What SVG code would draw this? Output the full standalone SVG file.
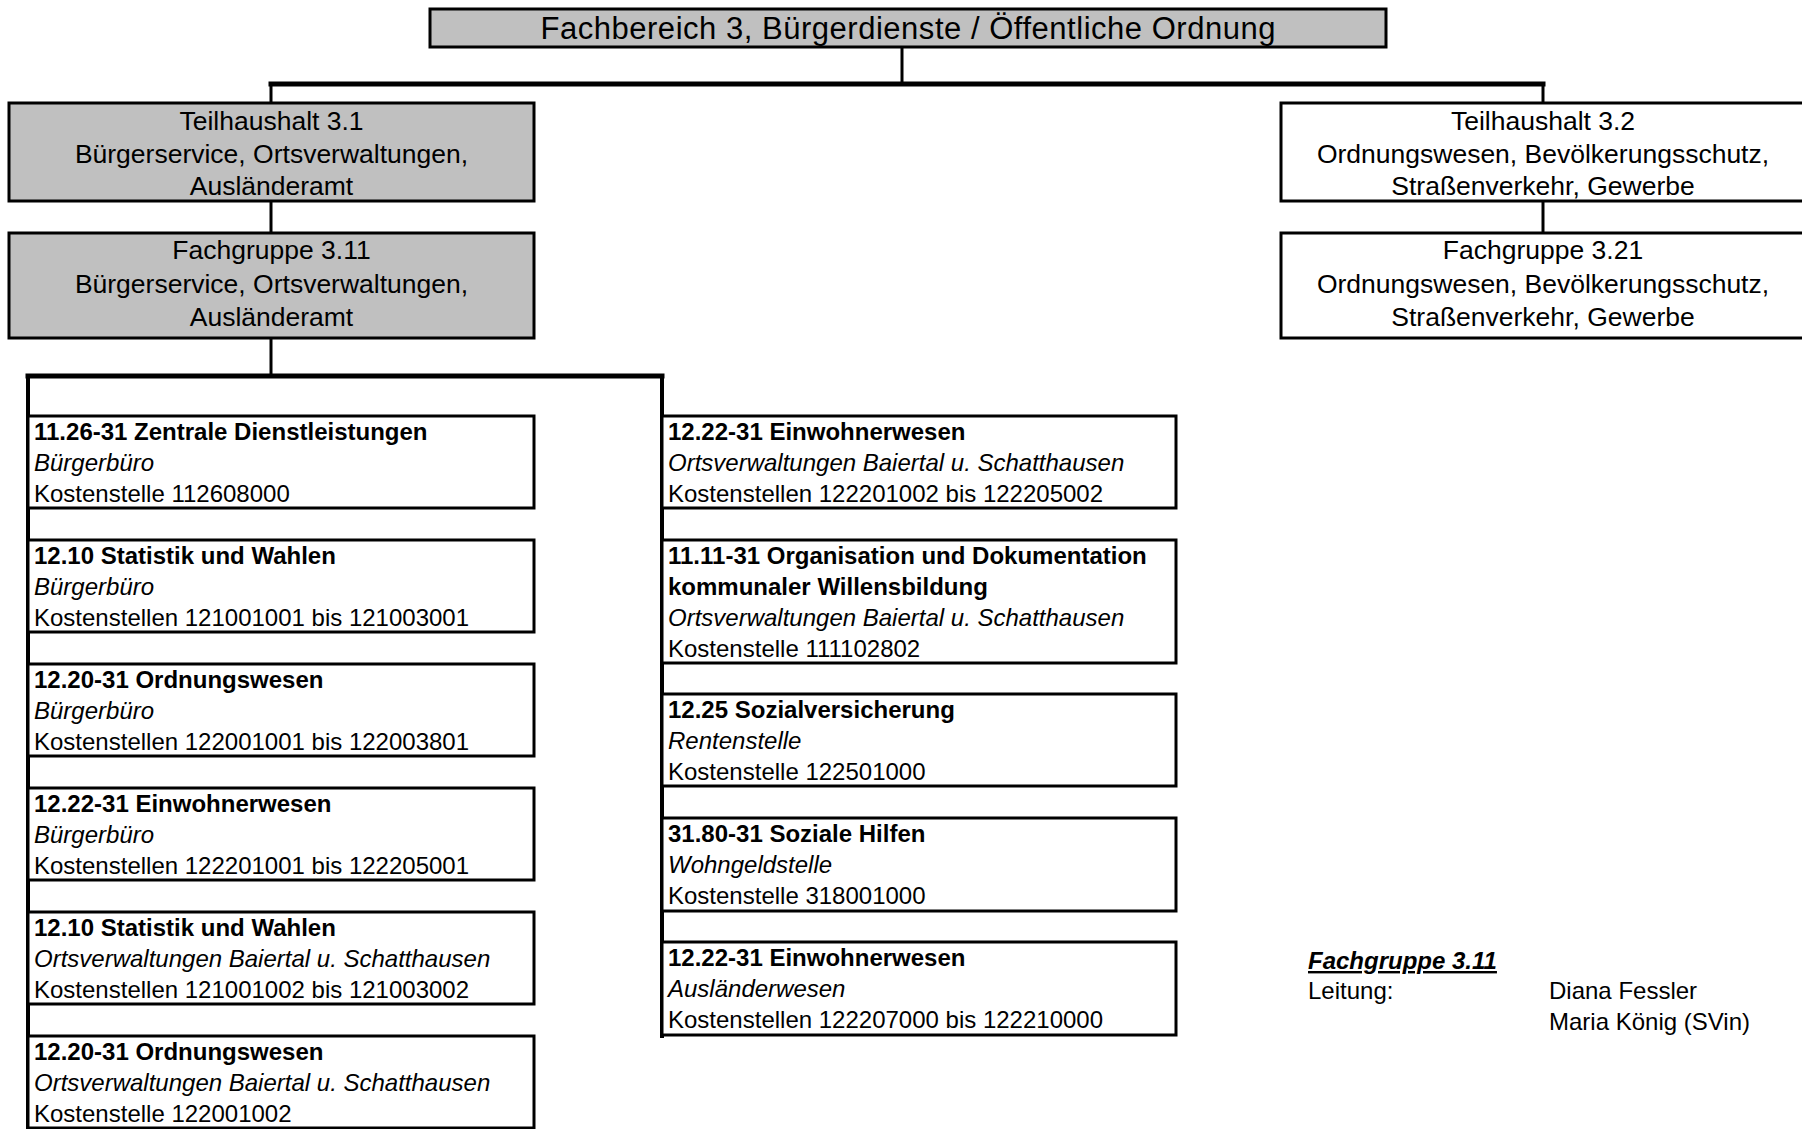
<svg xmlns="http://www.w3.org/2000/svg" width="1802" height="1129" viewBox="0 0 1802 1129">
<style>
  text { font-family: "Liberation Sans", Arial, sans-serif; fill: #000; }
  .box { fill: #fff; stroke: #000; stroke-width: 3; }
  .grey { fill: #c0c0c0; stroke: #000; stroke-width: 3; }
  .hd { font-size: 26.5px; text-anchor: middle; }
  .title { font-size: 31px; text-anchor: middle; }
  .t { font-size: 24px; }
  .b { font-weight: bold; }
  .i { font-style: italic; }
  .conn { stroke: #000; fill: none; stroke-linecap: square; }
</style>
<rect x="0" y="0" width="1802" height="1129" fill="#fff"/>

<g id="connectors">
  <line class="conn" x1="902" y1="47" x2="902" y2="84" stroke-width="3"/>
  <line class="conn" x1="271" y1="84" x2="1543" y2="84" stroke-width="5"/>
  <line class="conn" x1="271" y1="84" x2="271" y2="103" stroke-width="3"/>
  <line class="conn" x1="1543" y1="84" x2="1543" y2="103" stroke-width="3"/>
  <line class="conn" x1="271" y1="201" x2="271" y2="233" stroke-width="3"/>
  <line class="conn" x1="1543" y1="201" x2="1543" y2="233" stroke-width="3"/>
  <line class="conn" x1="271" y1="338" x2="271" y2="376" stroke-width="3"/>
  <line class="conn" x1="28" y1="376" x2="662" y2="376" stroke-width="5"/>
  <line class="conn" x1="28" y1="376" x2="28" y2="1131" stroke-width="4"/>
  <line class="conn" x1="662" y1="376" x2="662" y2="1036" stroke-width="4"/>
</g>

<g id="fb3">
  <rect class="grey" x="430" y="9" width="956" height="38"/>
  <text class="title" x="908" y="39" textLength="735" lengthAdjust="spacing">Fachbereich 3, Bürgerdienste / Öffentliche Ordnung</text>
</g>

<g id="th31">
  <rect class="grey" x="9" y="103" width="525" height="98"/>
  <text class="hd" x="271.5" y="130">Teilhaushalt 3.1</text>
  <text class="hd" x="271.5" y="163">Bürgerservice, Ortsverwaltungen,</text>
  <text class="hd" x="271.5" y="195">Ausländeramt</text>
</g>

<g id="fg311">
  <rect class="grey" x="9" y="233" width="525" height="105"/>
  <text class="hd" x="271.5" y="259">Fachgruppe 3.11</text>
  <text class="hd" x="271.5" y="293">Bürgerservice, Ortsverwaltungen,</text>
  <text class="hd" x="271.5" y="326">Ausländeramt</text>
</g>

<g id="th32">
  <rect class="box" x="1281" y="103" width="524" height="98"/>
  <text class="hd" x="1543" y="130">Teilhaushalt 3.2</text>
  <text class="hd" x="1543" y="163">Ordnungswesen, Bevölkerungsschutz,</text>
  <text class="hd" x="1543" y="195">Straßenverkehr, Gewerbe</text>
</g>

<g id="fg321">
  <rect class="box" x="1281" y="233" width="524" height="105"/>
  <text class="hd" x="1543" y="259">Fachgruppe 3.21</text>
  <text class="hd" x="1543" y="293">Ordnungswesen, Bevölkerungsschutz,</text>
  <text class="hd" x="1543" y="326">Straßenverkehr, Gewerbe</text>
</g>

<g id="l1">
  <rect class="box" x="28" y="416" width="506" height="92"/>
  <text class="t b" x="34" y="440">11.26-31 Zentrale Dienstleistungen</text>
  <text class="t i" x="34" y="471">Bürgerbüro</text>
  <text class="t" x="34" y="502">Kostenstelle 112608000</text>
</g>
<g id="l2">
  <rect class="box" x="28" y="540" width="506" height="92"/>
  <text class="t b" x="34" y="564">12.10 Statistik und Wahlen</text>
  <text class="t i" x="34" y="595">Bürgerbüro</text>
  <text class="t" x="34" y="626">Kostenstellen 121001001 bis 121003001</text>
</g>
<g id="l3">
  <rect class="box" x="28" y="664" width="506" height="92"/>
  <text class="t b" x="34" y="688">12.20-31 Ordnungswesen</text>
  <text class="t i" x="34" y="719">Bürgerbüro</text>
  <text class="t" x="34" y="750">Kostenstellen 122001001 bis 122003801</text>
</g>
<g id="l4">
  <rect class="box" x="28" y="788" width="506" height="92"/>
  <text class="t b" x="34" y="812">12.22-31 Einwohnerwesen</text>
  <text class="t i" x="34" y="843">Bürgerbüro</text>
  <text class="t" x="34" y="874">Kostenstellen 122201001 bis 122205001</text>
</g>
<g id="l5">
  <rect class="box" x="28" y="912" width="506" height="92"/>
  <text class="t b" x="34" y="936">12.10 Statistik und Wahlen</text>
  <text class="t i" x="34" y="967">Ortsverwaltungen Baiertal u. Schatthausen</text>
  <text class="t" x="34" y="998">Kostenstellen 121001002 bis 121003002</text>
</g>
<g id="l6">
  <rect class="box" x="28" y="1036" width="506" height="92"/>
  <text class="t b" x="34" y="1060">12.20-31 Ordnungswesen</text>
  <text class="t i" x="34" y="1091">Ortsverwaltungen Baiertal u. Schatthausen</text>
  <text class="t" x="34" y="1122">Kostenstelle 122001002</text>
</g>

<g id="r1">
  <rect class="box" x="662" y="416" width="514" height="92"/>
  <text class="t b" x="668" y="440">12.22-31 Einwohnerwesen</text>
  <text class="t i" x="668" y="471">Ortsverwaltungen Baiertal u. Schatthausen</text>
  <text class="t" x="668" y="502">Kostenstellen 122201002 bis 122205002</text>
</g>
<g id="r2">
  <rect class="box" x="662" y="540" width="514" height="123"/>
  <text class="t b" x="668" y="564">11.11-31 Organisation und Dokumentation</text>
  <text class="t b" x="668" y="595">kommunaler Willensbildung</text>
  <text class="t i" x="668" y="626">Ortsverwaltungen Baiertal u. Schatthausen</text>
  <text class="t" x="668" y="657">Kostenstelle 111102802</text>
</g>
<g id="r3">
  <rect class="box" x="662" y="694" width="514" height="92"/>
  <text class="t b" x="668" y="718">12.25 Sozialversicherung</text>
  <text class="t i" x="668" y="749">Rentenstelle</text>
  <text class="t" x="668" y="780">Kostenstelle 122501000</text>
</g>
<g id="r4">
  <rect class="box" x="662" y="818" width="514" height="93"/>
  <text class="t b" x="668" y="842">31.80-31 Soziale Hilfen</text>
  <text class="t i" x="668" y="873">Wohngeldstelle</text>
  <text class="t" x="668" y="904">Kostenstelle 318001000</text>
</g>
<g id="r5">
  <rect class="box" x="662" y="942" width="514" height="93"/>
  <text class="t b" x="668" y="966">12.22-31 Einwohnerwesen</text>
  <text class="t i" x="668" y="997">Ausländerwesen</text>
  <text class="t" x="668" y="1028">Kostenstellen 122207000 bis 122210000</text>
</g>

<g id="legend">
  <text class="t b i" x="1308" y="969" text-decoration="underline">Fachgruppe 3.11</text>
  <text class="t" x="1308" y="999">Leitung:</text>
  <text class="t" x="1549" y="999">Diana Fessler</text>
  <text class="t" x="1549" y="1030">Maria König (SVin)</text>
</g>
</svg>
